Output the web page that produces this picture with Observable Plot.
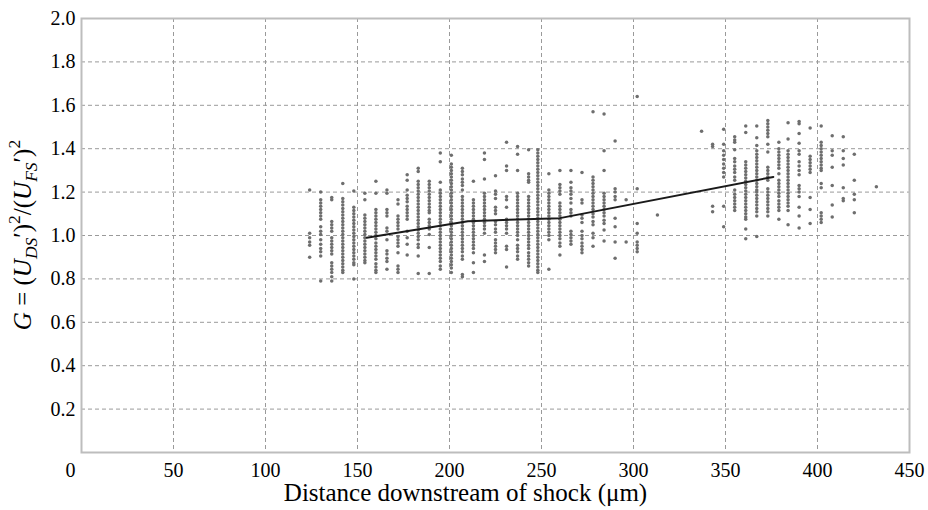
<!DOCTYPE html>
<html><head><meta charset="utf-8">
<script src="https://cdn.jsdelivr.net/npm/d3@7"></script>
<script src="https://cdn.jsdelivr.net/npm/@observablehq/plot@0.6"></script>
<style>
body{margin:0;background:#fff}
#chart svg, #chart svg text { font-family: "Liberation Serif", "DejaVu Serif", "Tinos", "Nimbus Roman", "FreeSerif", serif !important; }
</style>
</head><body><div id="chart"></div>
<script>
const xTicks = [0, 50, 100, 150, 200, 250, 300, 350, 400, 450];
const yTicks = [0.2, 0.4, 0.6, 0.8, 1.0, 1.2, 1.4, 1.6, 1.8, 2.0];
const xLabel = "Distance downstream of shock (μm)";

// scatter: each column's x position (μm) and its y values
const columnX = [124, 130, 136, 142, 148, 154, 160, 166, 172, 177, 183, 189, 195, 201, 207, 213, 219, 225, 231, 237, 243, 248, 254, 260, 266, 272, 278, 284, 290, 296, 302, 313, 337, 343, 349, 355, 361, 367, 373, 379, 384, 390, 396, 402, 408, 414, 420, 432];
const columnY = [
  [1.21, 1.01, 0.99, 0.97, 0.955, 0.90],
  [1.20, 1.165, 1.15, 1.135, 1.12, 1.105, 1.09, 1.075, 1.04, 1.02, 1.005, 0.98, 0.96, 0.94, 0.925, 0.905, 0.79],
  [1.175, 1.165, 1.065, 1.05, 1.035, 1.02, 0.99, 0.975, 0.96, 0.945, 0.93, 0.915, 0.875, 0.86, 0.845, 0.83, 0.81, 0.79],
  [1.24, 1.17, 1.155, 1.14, 1.125, 1.11, 1.095, 1.08, 1.065, 1.05, 1.035, 1.02, 1.005, 0.99, 0.975, 0.96, 0.945, 0.93, 0.915, 0.9, 0.885, 0.87, 0.855, 0.84, 0.83],
  [1.205, 1.13, 1.115, 1.10, 1.085, 1.07, 1.055, 1.04, 1.025, 1.01, 0.995, 0.98, 0.965, 0.95, 0.935, 0.92, 0.905, 0.89, 0.875, 0.865, 0.80],
  [1.195, 1.165, 1.095, 1.08, 1.065, 1.05, 1.035, 1.02, 1.005, 0.99, 0.975, 0.96, 0.945, 0.93, 0.915, 0.90, 0.885, 0.875],
  [1.25, 1.195, 1.12, 1.105, 1.09, 1.075, 1.06, 1.045, 1.03, 1.015, 1.0, 0.985, 0.965, 0.95, 0.935, 0.92, 0.905, 0.89, 0.87, 0.855, 0.84, 0.83],
  [1.21, 1.195, 1.12, 1.105, 1.09, 1.035, 1.02, 0.98, 0.93, 0.915, 0.895, 0.88, 0.845],
  [1.165, 1.145, 1.09, 1.075, 1.06, 1.045, 1.03, 0.995, 0.98, 0.965, 0.95, 0.92, 0.86, 0.845, 0.83],
  [1.28, 1.255, 1.21, 1.185, 1.17, 1.155, 1.135, 1.12, 1.105, 1.09, 1.075, 1.02, 0.99, 0.96, 0.91],
  [1.31, 1.295, 1.25, 1.235, 1.22, 1.205, 1.19, 1.175, 1.16, 1.145, 1.13, 1.115, 1.10, 1.085, 1.07, 1.055, 1.04, 1.025, 1.01, 0.995, 0.98, 0.96, 0.945, 0.905, 0.825],
  [1.25, 1.235, 1.22, 1.205, 1.19, 1.175, 1.16, 1.145, 1.13, 1.115, 1.105, 1.075, 1.06, 1.045, 1.03, 1.005, 0.945, 0.825],
  [1.38, 1.34, 1.245, 1.21, 1.195, 1.18, 1.165, 1.15, 1.135, 1.12, 1.105, 1.09, 1.075, 1.06, 1.045, 1.03, 1.015, 1.0, 0.985, 0.97, 0.955, 0.94, 0.925, 0.91, 0.895, 0.88, 0.86, 0.845],
  [1.37, 1.33, 1.315, 1.30, 1.285, 1.27, 1.255, 1.24, 1.225, 1.21, 1.195, 1.18, 1.165, 1.15, 1.135, 1.12, 1.105, 1.09, 1.075, 1.06, 1.045, 1.03, 1.015, 1.0, 0.985, 0.97, 0.955, 0.94, 0.925, 0.91, 0.895, 0.88, 0.865, 0.85, 0.83],
  [1.31, 1.295, 1.28, 1.26, 1.245, 1.23, 1.21, 1.18, 1.165, 1.15, 1.135, 1.12, 1.105, 1.09, 1.075, 1.06, 1.045, 1.03, 1.015, 1.0, 0.985, 0.97, 0.955, 0.94, 0.925, 0.905, 0.89, 0.82, 0.81],
  [1.25, 1.165, 1.15, 1.135, 1.12, 1.105, 1.09, 1.075, 1.06, 1.045, 1.03, 1.015, 1.0, 0.985, 0.97, 0.955, 0.94, 0.92, 0.875, 0.83],
  [1.38, 1.35, 1.26, 1.195, 1.18, 1.165, 1.15, 1.135, 1.12, 1.105, 1.09, 1.075, 1.06, 1.045, 1.03, 1.01, 0.91, 0.88],
  [1.275, 1.205, 1.19, 1.17, 1.13, 1.115, 1.10, 1.065, 1.05, 1.03, 1.015, 0.98, 0.965, 0.95, 0.935, 0.92],
  [1.43, 1.32, 1.30, 1.18, 1.165, 1.13, 1.075, 1.06, 1.045, 1.03, 1.01, 0.95, 0.935, 0.855],
  [1.41, 1.375, 1.30, 1.195, 1.18, 1.165, 1.15, 1.135, 1.12, 1.105, 1.09, 1.075, 1.06, 1.045, 1.03, 1.015, 1.0, 0.98, 0.955, 0.94, 0.925, 0.905, 0.89],
  [1.395, 1.285, 1.27, 1.255, 1.245, 1.18, 1.165, 1.15, 1.135, 1.12, 1.105, 1.09, 1.075, 1.06, 1.045, 1.03, 1.015, 1.0, 0.985, 0.97, 0.955, 0.94, 0.92, 0.905, 0.89, 0.875, 0.86],
  [1.395, 1.38, 1.365, 1.35, 1.335, 1.32, 1.305, 1.29, 1.275, 1.26, 1.245, 1.23, 1.215, 1.20, 1.185, 1.17, 1.155, 1.14, 1.125, 1.11, 1.095, 1.08, 1.065, 1.05, 1.035, 1.02, 1.005, 0.99, 0.975, 0.96, 0.945, 0.93, 0.915, 0.90, 0.885, 0.87, 0.855, 0.84, 0.83],
  [1.285, 1.21, 1.195, 1.18, 1.165, 1.15, 1.135, 1.12, 1.105, 1.09, 1.075, 1.06, 1.045, 1.03, 1.015, 1.0, 0.98, 0.845],
  [1.30, 1.235, 1.22, 1.205, 1.19, 1.15, 1.135, 1.12, 1.105, 1.09, 1.075, 1.06, 1.045, 1.03, 1.015, 1.0, 0.985, 0.965, 0.95, 0.91],
  [1.30, 1.245, 1.22, 1.205, 1.19, 1.17, 1.15, 1.12, 1.105, 1.09, 1.02, 1.005, 0.99, 0.975, 0.96],
  [1.29, 1.165, 1.15, 1.095, 1.08, 1.06, 1.02, 1.0, 0.985, 0.965, 0.95, 0.935, 0.92],
  [1.57, 1.27, 1.255, 1.24, 1.225, 1.21, 1.195, 1.18, 1.165, 1.15, 1.135, 1.12, 1.10, 1.085, 1.065, 1.05, 1.01, 0.99, 0.95],
  [1.56, 1.39, 1.30, 1.195, 1.18, 1.165, 1.15, 1.135, 1.12, 1.105, 1.09, 1.07, 1.055, 1.025, 0.975],
  [1.435, 1.215, 1.20, 1.18, 1.165, 1.08, 1.04, 0.97, 0.895],
  [1.165, 0.97],
  [1.64, 1.215, 1.055, 1.01, 0.97, 0.955, 0.94, 0.925],
  [1.095],
  [1.48],
  [1.42, 1.41, 1.135, 1.11],
  [1.49, 1.42, 1.39, 1.37, 1.35, 1.33, 1.31, 1.29, 1.27, 1.135, 1.04],
  [1.455, 1.44, 1.43, 1.395, 1.355, 1.34, 1.32, 1.305, 1.29, 1.27, 1.255, 1.21, 1.19, 1.175, 1.16, 1.145, 1.13, 1.115],
  [1.505, 1.475, 1.34, 1.325, 1.31, 1.295, 1.28, 1.265, 1.25, 1.235, 1.22, 1.205, 1.19, 1.175, 1.16, 1.145, 1.13, 1.115, 1.10, 1.085, 1.075, 1.03, 0.985],
  [1.505, 1.45, 1.415, 1.39, 1.375, 1.36, 1.345, 1.33, 1.315, 1.30, 1.285, 1.27, 1.255, 1.24, 1.225, 1.21, 1.20, 1.185, 1.17, 1.155, 1.14, 1.125, 1.11, 1.09, 0.995],
  [1.53, 1.515, 1.50, 1.485, 1.47, 1.455, 1.42, 1.385, 1.315, 1.30, 1.285, 1.27, 1.255, 1.215, 1.20, 1.185, 1.17, 1.155, 1.14, 1.125, 1.11, 1.09],
  [1.43, 1.40, 1.385, 1.37, 1.355, 1.34, 1.325, 1.31, 1.285, 1.255, 1.24, 1.225, 1.21, 1.195, 1.18, 1.16, 1.145, 1.13, 1.115, 1.075],
  [1.52, 1.445, 1.39, 1.375, 1.36, 1.345, 1.33, 1.315, 1.30, 1.285, 1.27, 1.255, 1.24, 1.225, 1.21, 1.195, 1.18, 1.165, 1.15, 1.135, 1.115, 1.05],
  [1.525, 1.515, 1.47, 1.425, 1.39, 1.375, 1.34, 1.32, 1.30, 1.28, 1.23, 1.215, 1.20, 1.18, 1.13, 1.09, 1.035],
  [1.495, 1.365, 1.35, 1.335, 1.32, 1.305, 1.29, 1.175, 1.12, 1.055],
  [1.505, 1.43, 1.415, 1.40, 1.385, 1.37, 1.355, 1.34, 1.325, 1.31, 1.30, 1.24, 1.22, 1.105, 1.09, 1.075, 1.06],
  [1.46, 1.39, 1.37, 1.315, 1.23, 1.14, 1.085],
  [1.455, 1.39, 1.355, 1.325, 1.22, 1.17, 1.16],
  [1.375, 1.255, 1.19, 1.165, 1.105],
  [1.225]
];

// mean trend line
const lineX = [155, 210, 260, 376];
const lineY = [0.99, 1.066, 1.08, 1.27];

const points = columnX.flatMap((x, i) => columnY[i].map(y => ({x, y})));
const trend = lineX.map((x, i) => ({x, y: lineY[i]}));

const gridStyle = {stroke: "#9a9a9a", strokeOpacity: 1, strokeWidth: 1, strokeDasharray: "4,3"};

const chart = Plot.plot({
  width: 928,
  height: 510,
  marginLeft: 81,
  marginRight: 19,
  marginTop: 18,
  marginBottom: 58,
  style: {fontSize: "20px", background: "#fff", color: "#000"},
  x: {domain: [0, 450]},
  y: {domain: [0, 2]},
  marks: [
    Plot.gridX(xTicks.filter(d => d > 0 && d < 450), gridStyle),
    Plot.gridY(yTicks.filter(d => d < 2), gridStyle),
    Plot.dot(points, {x: "x", y: "y", r: 1.75, fill: "#6e6e6e", stroke: "none"}),
    Plot.line(trend, {x: "x", y: "y", stroke: "#1a1a1a", strokeWidth: 2}),
    Plot.frame({stroke: "#bdbdbd", strokeWidth: 2}),
    Plot.axisX(xTicks, {tickSize: 0, tickPadding: 10, tickFormat: d => d === 0 ? "" : String(d), label: null, fontSize: 20}),
    Plot.axisY(yTicks, {tickSize: 0, tickPadding: 6, tickFormat: d3.format(".1f"), label: null, fontSize: 20}),
    Plot.text([xTicks[0]], {x: d => d, y: () => 0, text: d => String(d), lineAnchor: "top", dy: 10, dx: -11, fontSize: 20}),
    Plot.text([xLabel], {frameAnchor: "bottom", text: d => d, lineAnchor: "middle", dy: 40, dx: -30, fontSize: 25})
  ]
});

document.getElementById("chart").appendChild(chart);

// y-axis label with italic letters, subscripts and superscripts
const svg = d3.select(chart);
const t = svg.append("text")
  .attr("transform", "translate(31,235) rotate(-90)")
  .attr("text-anchor", "middle")
  .attr("font-size", 25)
  .attr("fill", "#000");
const sub = 17.5;
t.append("tspan").attr("font-style", "italic").text("G");
t.append("tspan").text(" = (");
t.append("tspan").attr("font-style", "italic").text("U");
t.append("tspan").attr("font-style", "italic").attr("font-size", sub).attr("dy", 6).text("DS");
t.append("tspan").attr("dy", -6).text("′)");
t.append("tspan").attr("font-size", sub).attr("dy", -11).text("2");
t.append("tspan").attr("dy", 11).text("/(");
t.append("tspan").attr("font-style", "italic").text("U");
t.append("tspan").attr("font-style", "italic").attr("font-size", sub).attr("dy", 6).text("FS");
t.append("tspan").attr("dy", -6).text("′)");
t.append("tspan").attr("font-size", sub).attr("dy", -11).text("2");
</script>
</body></html>
